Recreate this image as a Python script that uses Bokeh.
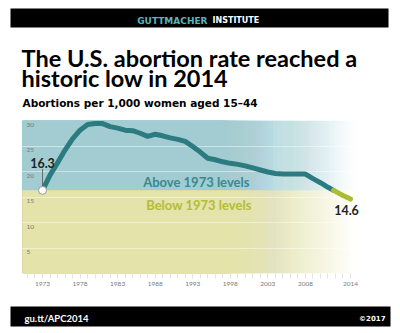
from bokeh.plotting import figure
from bokeh.layouts import column
from bokeh.models import Range1d, FixedTicker
from bokeh.embed import file_html
from bokeh.resources import INLINE
from bokeh.core.properties import value

# ---------------- data ----------------
years = list(range(1973, 2015))
rates = [16.3, 19.3, 21.7, 24.2, 26.4, 28.1, 29.2, 29.4, 29.4, 28.8,
         28.5, 28.1, 28.0, 27.5, 26.9, 27.3, 27.0, 26.6, 26.3, 25.9,
         24.9, 23.8, 22.6, 22.3, 21.9, 21.6, 21.4, 21.1, 20.7, 20.3,
         19.9, 19.6, 19.5, 19.5, 19.5, 19.5, 18.6, 17.8, 16.9, 16.1,
         15.3, 14.6]
x_tick_years = [1973, 1978, 1983, 1988, 1993, 1998, 2003, 2008, 2014]
minor_tick_years = list(range(1971, 2015))
y_ticks = [5, 10, 15, 20, 25, 30]

brand_1 = "GUTTMACHER"
brand_2 = "INSTITUTE"
title_lines = ["The U.S. abortion rate reached a", "historic low in 2014"]
subtitle = "Abortions per 1,000 women aged 15\u201344"
above_text = "Above 1973 levels"
below_text = "Below 1973 levels"
footer_left = "gu.tt/APC2014"
footer_right = "\u00a92017"

# ---------------- colors ----------------
BLUE_BG = "#A9D5DA"
YELLOW_BG = "#E9E8B1"
TEAL = "#2C7B81"
GREEN = "#A9BD2E"
ABOVE_C = "#3A898F"
BELOW_C = "#B6BC38"
HEAD_TEAL = "#5AB4BC"
FONT = "Lato"

W = 400
H_HEAD, H_CHART, H_FOOT = 112, 183, 38


def blank(height, y0):
    f = figure(width=W, height=height, output_backend="svg", toolbar_location=None,
               x_range=Range1d(0, W), y_range=Range1d(y0 + height, y0),
               x_axis_location=None, y_axis_location=None,
               min_border=0, min_border_left=0, min_border_right=0,
               min_border_top=0, min_border_bottom=0)
    f.outline_line_color = None
    f.grid.visible = False
    f.background_fill_color = "white"
    f.border_fill_color = "white"
    return f


def txt(f, x, y, s, size, color, align="left", base="alphabetic", font=FONT, style="bold"):
    f.text(x=[x], y=[y], text=[s], text_font=value(font), text_font_size=size,
           text_font_style=style, text_color=color, text_align=align, text_baseline=base)


# ---------------- header ----------------
head = blank(H_HEAD, 0)
head.quad(left=[10], right=[388], top=[8], bottom=[27], fill_color="black", line_color=None)
txt(head, 207, 20, brand_1, "9px", HEAD_TEAL, align="right", font="DejaVu Sans")
txt(head, 212, 20, brand_2, "8px", "white", align="left", font="DejaVu Sans")
txt(head, 21, 57, title_lines[0], "23.5px", "black")
txt(head, 21, 77, title_lines[1], "23.5px", "black")
txt(head, 22, 102, subtitle, "10.5px", "black", font="DejaVu Sans")

# ---------------- chart ----------------
PX_PER_YEAR = 7.512
x_start = 1973 - 42 / PX_PER_YEAR
x_end = x_start + W / PX_PER_YEAR
bg_start = 1973 - 20 / PX_PER_YEAR
bg_end = 2014.8

baseline = rates[0]
last = rates[-1]

p = figure(width=W, height=H_CHART, output_backend="svg", toolbar_location=None,
           x_range=Range1d(x_start, x_end), y_range=Range1d(0, 30),
           y_axis_location=None,
           min_border_left=0, min_border_right=0, min_border_top=8,
           min_border_bottom=22)
p.outline_line_color = None
p.background_fill_color = "white"
p.border_fill_color = "white"
p.xgrid.visible = False

# background bands: stacked translucent layers give a smooth fade on the right
fade_start = 1997.0
n = 40
targets = [1.0] + [1 - ((m - 0.5) / n) ** 1.4 for m in range(1, n + 1)]
trans = [1 - t for t in targets] + [1.0]
rights, alphas = [], []
for m in range(n + 1):
    tm, tn = trans[m], trans[m + 1]
    a = 1.0 if tn == 0 else 1 - tm / tn
    rights.append(fade_start + m * (bg_end - fade_start) / n)
    alphas.append(min(1.0, max(0.0, a)))
lefts = [bg_start] * len(rights)
p.quad(left=lefts, right=rights, bottom=baseline, top=30, fill_color=BLUE_BG,
       fill_alpha=alphas, line_color=None, level="image")
p.quad(left=lefts, right=rights, bottom=0, top=baseline, fill_color=YELLOW_BG,
       fill_alpha=alphas, line_color=None, level="image")

# faint horizontal rules
p.ygrid.ticker = FixedTicker(ticks=y_ticks)
p.ygrid.grid_line_color = "white"
p.ygrid.grid_line_alpha = 0.45

# split the line where it drops below the 1973 level
cross_i = next(i for i in range(1, len(rates)) if rates[i] < baseline <= rates[i - 1])
ya, yb = rates[cross_i - 1], rates[cross_i]
xa, xb = years[cross_i - 1], years[cross_i]
xc = xa + (ya - baseline) / (ya - yb) * (xb - xa)
p.line(years[:cross_i] + [xc], rates[:cross_i] + [baseline], line_color=TEAL,
       line_width=5, line_join="round", line_cap="round")
p.line([xc] + years[cross_i:], [baseline] + rates[cross_i:], line_color=GREEN,
       line_width=5, line_join="round", line_cap="round")

# start marker + leader line
p.segment(x0=[years[0]], y0=[baseline + 0.8], x1=[years[0]], y1=[baseline + 4.2],
          line_color="#555555", line_width=0.8)
p.scatter([years[0]], [rates[0]], size=8, fill_color="white", line_color="#999999", line_width=1)

p.text(x=[years[0]], y=[baseline + 4.4], text=[f"{rates[0]:.1f}"], text_font=value(FONT),
       text_font_style="bold", text_font_size="12.5px", text_color="#222222",
       text_align="center", text_baseline="bottom")
p.text(x=[years[-1]], y=[last - 1.2], text=[f"{last:.1f}"], text_font=value(FONT),
       text_font_style="bold", text_font_size="12.5px", text_color="#222222",
       text_align="center", text_baseline="top", x_offset=-4)

p.text(x=[1986.4], y=[baseline + 1.7], text=[above_text], text_font=value(FONT),
       text_font_style="bold", text_font_size="13px", text_color=ABOVE_C,
       text_align="left", text_baseline="middle")
p.text(x=[1986.8], y=[baseline - 2.8], text=[below_text], text_font=value(FONT),
       text_font_style="bold", text_font_size="13px", text_color=BELOW_C,
       text_align="left", text_baseline="middle")

# y tick labels inside the plot area, just under each rule
p.text(x=[bg_start] * len(y_ticks), y=y_ticks, text=[str(v) for v in y_ticks],
       x_offset=4, y_offset=2, text_font=value(FONT), text_font_size="6.5px",
       text_color="#7a7a7a", text_align="left", text_baseline="top")

ax = p.xaxis[0]
ax.ticker = FixedTicker(ticks=x_tick_years, minor_ticks=minor_tick_years)
ax.axis_line_color = None
ax.major_tick_line_color = "#e4e4e4"
ax.minor_tick_line_color = "#e4e4e4"
ax.major_tick_in = 0
ax.major_tick_out = 5
ax.minor_tick_in = 0
ax.minor_tick_out = 5
ax.major_label_text_font = FONT
ax.major_label_text_font_size = "6.5px"
ax.major_label_text_color = "#7a7a7a"
ax.major_label_standoff = 3

# ---------------- footer ----------------
foot = blank(H_FOOT, 295)
foot.quad(left=[10], right=[390], top=[306], bottom=[326], fill_color="black", line_color=None)
txt(foot, 24, 318, footer_left, "9.5px", "white", font=FONT)
txt(foot, 385, 318, footer_right, "7px", "white", align="right", font="DejaVu Sans")

layout = column(head, p, foot, spacing=0)
open("out.html", "w").write(file_html(layout, INLINE))
